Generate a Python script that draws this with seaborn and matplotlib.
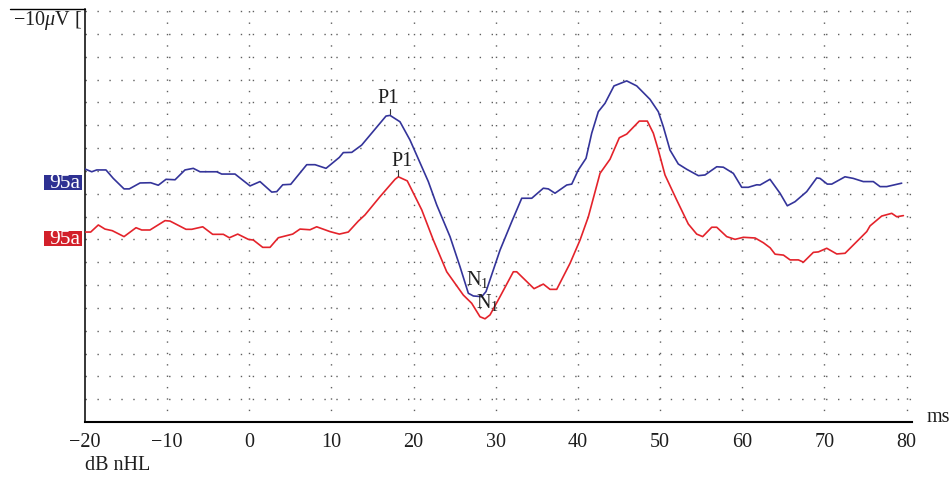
import numpy as np
import pandas as pd
import matplotlib
matplotlib.use("Agg")
import matplotlib.pyplot as plt
import matplotlib.transforms as mtrans
from matplotlib.patches import Rectangle
import seaborn as sns


# ──────────────────────────────────────────────
# Data (latency in ms, amplitude in grid divisions)
# ──────────────────────────────────────────────

blue_ms = [-20.0, -19.18, -18.58, -17.45, -16.56, -15.25, -14.61, -13.30, -12.00, -11.08,
           -10.14, -9.04, -7.83, -6.82, -6.00, -3.97, -3.36, -1.74, 0.09, 1.30,
           2.73, 3.34, 4.07, 5.04, 6.99, 8.00, 9.34, 10.96, 11.44, 12.47,
           13.68, 16.64, 17.13, 18.34, 19.56, 21.79, 22.81, 24.43, 25.65, 26.66,
           27.27, 28.29, 28.81, 30.52, 31.94, 33.16, 34.38, 35.79, 36.40, 37.21,
           38.64, 39.25, 40.05, 40.99, 41.68, 42.48, 43.30, 44.39, 45.94, 47.16,
           48.78, 49.79, 50.40, 51.21, 52.22, 53.24, 54.66, 55.47, 56.90, 57.70,
           58.92, 59.94, 60.74, 61.77, 62.17, 63.38, 64.60, 65.49, 66.43, 67.85,
           69.07, 69.47, 70.36, 70.90, 72.51, 73.52, 74.74, 75.96, 76.78, 77.59,
           79.41]
blue_amp = [11.08, 10.96, 11.04, 11.04, 10.67, 10.21, 10.21, 10.47, 10.48, 10.37,
            10.63, 10.61, 11.04, 11.11, 10.96, 10.96, 10.86, 10.86, 10.34, 10.53,
            10.07, 10.09, 10.39, 10.41, 11.27, 11.27, 11.11, 11.59, 11.80, 11.81,
            12.13, 13.40, 13.43, 13.15, 12.35, 10.53, 9.51, 8.12, 6.80, 5.64,
            5.52, 5.49, 5.71, 7.53, 8.77, 9.80, 9.80, 10.24, 10.21, 10.02,
            10.38, 10.42, 11.04, 11.55, 12.65, 13.59, 13.96, 14.72, 14.94, 14.72,
            14.13, 13.59, 12.93, 11.91, 11.30, 11.07, 10.79, 10.82, 11.18, 11.16,
            10.89, 10.28, 10.28, 10.39, 10.38, 10.63, 10.02, 9.47, 9.65, 10.09,
            10.69, 10.67, 10.42, 10.42, 10.74, 10.67, 10.53, 10.53, 10.31, 10.31,
            10.46]

red_ms = [-20.0, -19.31, -18.38, -17.57, -16.68, -15.25, -13.79, -13.10, -12.09, -10.26,
          -9.65, -7.71, -7.01, -5.67, -4.46, -3.16, -2.43, -1.41, -0.12, 0.49,
          1.63, 2.52, 3.53, 5.28, 6.17, 7.39, 8.20, 9.82, 10.96, 12.05,
          13.27, 14.08, 15.91, 17.74, 18.14, 19.23, 20.99, 22.40, 24.03, 26.05,
          27.07, 28.08, 28.69, 29.30, 30.52, 32.14, 32.55, 34.66, 35.79, 36.60,
          37.42, 39.04, 40.26, 41.27, 42.69, 43.91, 45.04, 45.94, 47.47, 48.45,
          49.18, 49.79, 50.60, 52.03, 53.44, 54.46, 55.19, 56.29, 56.90, 58.11,
          59.13, 60.14, 61.57, 62.58, 63.40, 64.00, 65.02, 65.83, 66.84, 67.45,
          68.66, 69.27, 70.29, 71.51, 72.52, 75.16, 75.56, 76.98, 78.20, 78.81,
          79.62]
red_amp = [8.32, 8.32, 8.63, 8.45, 8.38, 8.12, 8.51, 8.41, 8.41, 8.82,
           8.80, 8.44, 8.44, 8.55, 8.22, 8.22, 8.07, 8.23, 8.00, 7.97,
           7.65, 7.65, 8.07, 8.23, 8.45, 8.42, 8.55, 8.34, 8.23, 8.32,
           8.80, 9.07, 9.87, 10.63, 10.74, 10.56, 9.29, 7.97, 6.58, 5.56,
           5.20, 4.61, 4.52, 4.69, 5.49, 6.58, 6.58, 5.84, 6.04, 5.81,
           5.81, 6.95, 7.97, 8.99, 10.89, 11.51, 12.45, 12.61, 13.18, 13.18,
           12.65, 11.91, 10.82, 9.72, 8.67, 8.23, 8.12, 8.53, 8.53, 8.12,
           8.00, 8.09, 8.06, 7.85, 7.63, 7.35, 7.31, 7.10, 7.10, 7.00,
           7.43, 7.45, 7.61, 7.36, 7.39, 8.34, 8.59, 9.02, 9.14, 8.99,
           9.04]

trace_names = ["95a blue", "95a red"]
trace_labels = ["95a", "95a"]
x_ticks = [-20, -10, 0, 10, 20, 30, 40, 50, 60, 70, 80]

BLUE = "#34349a"
RED = "#e4232b"
BLUE_BOX = "#2e3192"
RED_BOX = "#d2202a"
DOT = "#5f5f5f"
INK = "#1e1e1e"

df = pd.concat([
    pd.DataFrame({"ms": blue_ms, "amp": blue_amp, "trace": trace_names[0]}),
    pd.DataFrame({"ms": red_ms, "amp": red_amp, "trace": trace_names[1]}),
], ignore_index=True)


# ──────────────────────────────────────────────
# Figure
# ──────────────────────────────────────────────

sns.set_style("white")
plt.rcParams["font.family"] = ["Liberation Serif", "DejaVu Serif"]
plt.rcParams["mathtext.fontset"] = "custom"
plt.rcParams["mathtext.rm"] = "Liberation Serif"
plt.rcParams["mathtext.it"] = "Liberation Serif:italic"

fig = plt.figure(figsize=(9.52, 4.83), dpi=100)
ax = fig.add_axes([0.0893, 0.1263, 0.8687, 0.8551])

# dotted grid
for yv in range(1, 19):
    ax.axhline(yv, color=DOT, lw=1.0, ls=(0, (1, 7.6)), zorder=1)
for xv in range(-10, 81, 10):
    ax.axvline(xv, color=DOT, lw=1.0, ls=(0, (1, 7.2)), zorder=1)

sns.lineplot(data=df, x="ms", y="amp", hue="trace", palette=[BLUE, RED],
             estimator=None, sort=False, legend=False, lw=1.2, ax=ax, zorder=3)

ax.set_xlim(-20, 80.67)
ax.set_ylim(0, 18.09)
ax.set_xticks(x_ticks)
ax.set_yticks([])
ax.set_xlabel("")
ax.set_ylabel("")
ax.tick_params(axis="x", length=0, pad=8, labelsize=14.5, labelcolor=INK)
for side in ["top", "right"]:
    ax.spines[side].set_visible(False)
ax.spines["left"].set_linewidth(1.1)
ax.spines["bottom"].set_linewidth(1.5)
ax.spines["left"].set_color("black")
ax.spines["bottom"].set_color("black")

# peak labels
for ms, amp, dx, dy in [(blue_ms, blue_amp, -0.25, 0.72), (red_ms, red_amp, 0.45, 0.65)]:
    ms = np.array(ms)
    amp = np.array(amp)
    win = (ms > 10) & (ms < 25)
    i = np.argmax(np.where(win, amp, -np.inf))
    ax.plot([ms[i], ms[i]], [amp[i] + 0.05, amp[i] + 0.3], color="#333333", lw=0.8, zorder=4)
    ax.text(ms[i] + dx, amp[i] + dy, "P1", fontsize=14.5, ha="center", va="center",
            color=INK, zorder=5)

ax.text(26.4, 6.26, "N$_1$", fontsize=14.5, ha="left", va="center", color=INK, zorder=5)
ax.text(27.55, 5.23, "N$_1$", fontsize=14.5, ha="left", va="center", color=INK, zorder=5)

# channel tags left of the axis
blend = mtrans.blended_transform_factory(ax.transAxes, ax.transData)
for label, yc, col in [(trace_labels[0], 10.47, BLUE_BOX), (trace_labels[1], 8.02, RED_BOX)]:
    ax.add_patch(Rectangle((-0.0496, yc - 0.33), 0.046, 0.66, transform=blend,
                           facecolor=col, edgecolor="none", clip_on=False, zorder=5))
    ax.text(-0.0055, yc - 0.03, label, transform=blend, fontsize=15.5, color="white",
            ha="right", va="center", clip_on=False, zorder=6)

# scale mark and unit labels
ax.plot([-0.0907, 0], [1, 1], transform=ax.transAxes, color="black", lw=1.0, clip_on=False)
ax.text(-0.004, 0.971, "\u221210$\\mu$V [", transform=ax.transAxes, fontsize=14.5,
        ha="right", va="center", color=INK)
ax.text(1.017, 0.012, "ms", transform=ax.transAxes, fontsize=14.5, ha="left", va="center",
        color=INK)
ax.text(0.0, -0.1065, "dB nHL", transform=ax.transAxes, fontsize=14.5, ha="left", va="center",
        color=INK)

fig.savefig("out.png", dpi=100)
